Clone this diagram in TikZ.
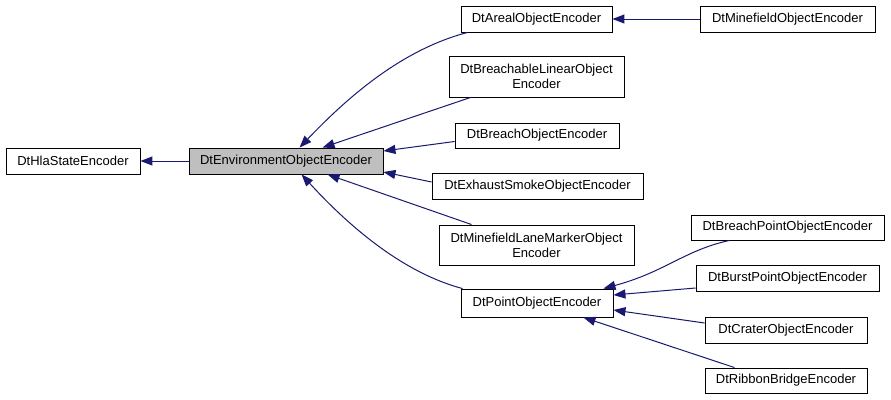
\documentclass[tikz,border=0pt]{standalone}
\usepackage{fontspec}
\setmainfont{Liberation Sans}
\usepackage{xcolor}
\usepackage{tikz}
\usetikzlibrary{arrows.meta}

\definecolor{edgeblue}{RGB}{25,25,112}
\definecolor{basegray}{RGB}{191,191,191}

\begin{document}
\begin{tikzpicture}[
    x=1pt, y=-1pt,
    classbox/.style={rectangle, draw=black, fill=white, line width=0.9pt, inner sep=0pt, minimum height=26pt, align=center, font=\fontsize{13}{15}\selectfont},
    current/.style={classbox, fill=basegray},
    twoline/.style={classbox, minimum height=41pt},
    inherit/.style={draw=edgeblue, line width=1pt, -{Triangle[length=12pt, width=9pt]}}
]
    \useasboundingbox (0,0) rectangle (891,399);

    \node[classbox, minimum width=134pt] (hla) at (73,161) {DtHlaStateEncoder};
    \node[current, minimum width=194pt] (env) at (286,161) {DtEnvironmentObjectEncoder};

    \node[classbox, minimum width=151pt] (areal) at (536.5,19) {DtArealObjectEncoder};
    \node[classbox, minimum width=175pt] (minefield) at (787.5,19) {DtMinefieldObjectEncoder};
    \node[twoline, minimum width=175pt] (breachable) at (536.5,76.5) {DtBreachableLinearObject\\Encoder};
    \node[classbox, minimum width=164pt, minimum height=25pt] (breach) at (537,135.5) {DtBreachObjectEncoder};
    \node[classbox, minimum width=211pt] (exhaust) at (537.5,186) {DtExhaustSmokeObjectEncoder};
    \node[twoline, minimum width=195pt, minimum height=40pt] (lane) at (536.5,245) {DtMinefieldLaneMarkerObject\\Encoder};
    \node[classbox, minimum width=152pt, minimum height=28pt] (point) at (537,303) {DtPointObjectEncoder};

    \node[classbox, minimum width=193pt, minimum height=25pt] (breachpt) at (787.5,227.5) {DtBreachPointObjectEncoder};
    \node[classbox, minimum width=183pt] (burstpt) at (787.5,278) {DtBurstPointObjectEncoder};
    \node[classbox, minimum width=162pt] (crater) at (786,330) {DtCraterObjectEncoder};
    \node[classbox, minimum width=162pt, minimum height=25pt] (ribbon) at (786,380.5) {DtRibbonBridgeEncoder};

    % Connections
    \draw[inherit] (env.west) -- (hla.east);
    \draw[inherit] (minefield.west) -- (areal.east);

    \draw[inherit] ([xshift=7pt]areal.south west) .. controls (400,50) and (345,100) .. ([xshift=111pt]env.north west);
    \draw[inherit] ([xshift=22pt]breachable.south west) -- ([xshift=134pt]env.north west);
    \draw[inherit] ([yshift=-6pt]breach.west) -- ([yshift=10pt]env.east);
    \draw[inherit] ([yshift=4pt]exhaust.west) -- ([yshift=-11pt]env.east);
    \draw[inherit] ([xshift=33pt]lane.north west) -- ([xshift=139pt]env.south west);
    \draw[inherit] ([xshift=2pt]point.north west) .. controls (400,272) and (345,222) .. ([xshift=113pt]env.south west);

    \draw[inherit] ([xshift=39pt]breachpt.south west) .. controls (685,250) and (665,272) .. ([xshift=-10pt]point.north east);
    \draw[inherit] ([yshift=-10pt]burstpt.west) -- ([yshift=8pt]point.east);
    \draw[inherit] ([yshift=7pt]crater.west) -- ([yshift=-7pt]point.east);
    \draw[inherit] ([xshift=30pt]ribbon.north west) -- ([xshift=-30pt]point.south east);
\end{tikzpicture}
\end{document}
